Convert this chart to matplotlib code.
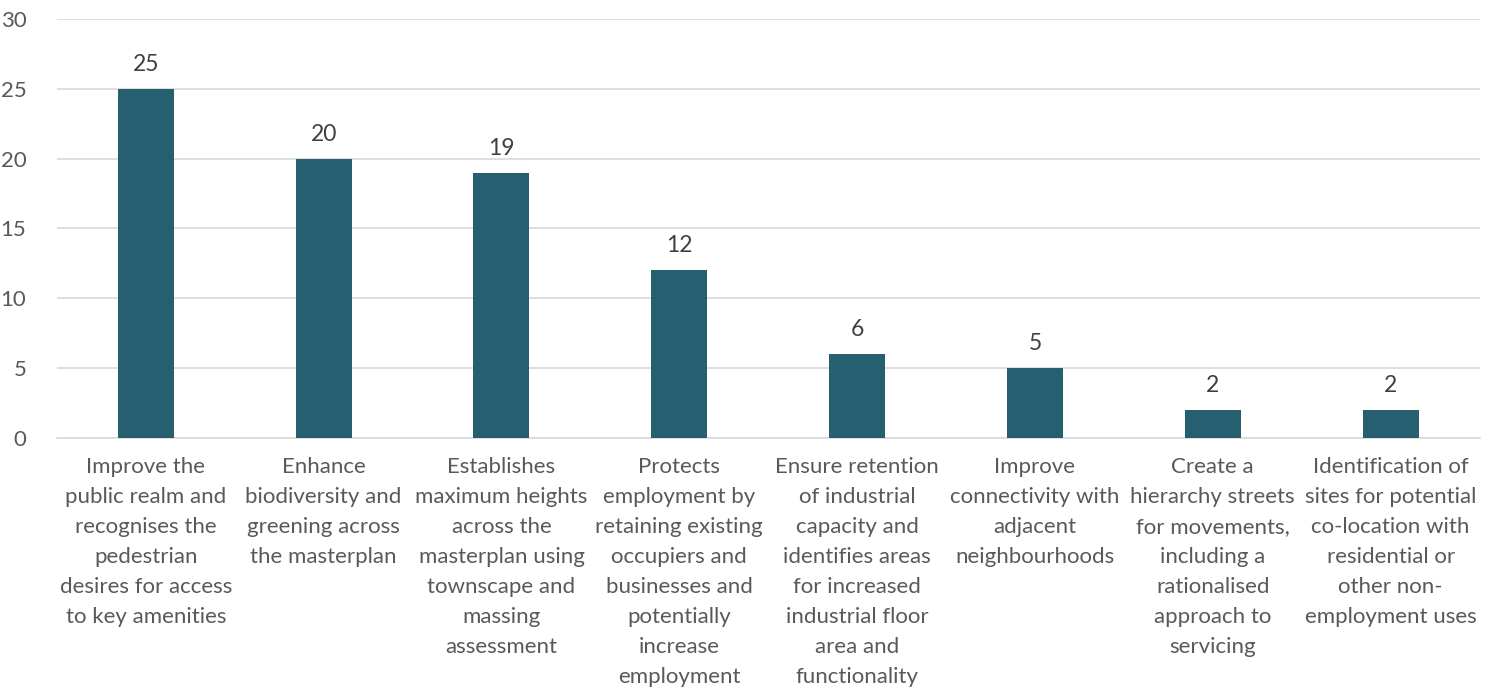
import matplotlib.pyplot as plt

# Masterplan objectives and number of mentions
labels = [
    'Improve the\npublic realm and\nrecognises the\npedestrian\ndesires for access\nto key amenities',
    'Enhance\nbiodiversity and\ngreening across\nthe masterplan',
    'Establishes\nmaximum heights\nacross the\nmasterplan using\ntownscape and\nmassing\nassessment',
    'Protects\nemployment by\nretaining existing\noccupiers and\nbusinesses and\npotentially\nincrease\nemployment',
    'Ensure retention\nof industrial\ncapacity and\nidentifies areas\nfor increased\nindustrial floor\narea and\nfunctionality',
    'Improve\nconnectivity with\nadjacent\nneighbourhoods',
    'Create a\nhierarchy streets\nfor movements,\nincluding a\nrationalised\napproach to\nservicing',
    'Identification of\nsites for potential\nco-location with\nresidential or\nother non-\nemployment uses',
]
counts = [25, 20, 19, 12, 6, 5, 2, 2]

text_color = '#595959'
plt.rcParams['font.family'] = ['Lato', 'DejaVu Sans']

fig = plt.figure(figsize=(14.96, 6.88), dpi=100)
ax = fig.add_axes([0.038, 0.3634, 0.951, 0.609])

x = list(range(len(counts)))
bars = ax.bar(x, counts, width=0.315, color='#265F6F', zorder=3)

for xi, v in zip(x, counts):
    ax.text(xi, v + 1.0, str(v), ha='center', va='bottom', fontsize=16.5, color='#404040')

ax.set_xlim(-0.5, len(counts) - 0.5)
ax.set_ylim(0, 30)
ax.set_yticks(range(0, 31, 5))
ax.set_xticks(x)
ax.set_xticklabels(labels, fontsize=16, color=text_color, linespacing=1.62)
ax.tick_params(axis='y', labelsize=16, labelcolor=text_color, length=0, pad=22)
ax.tick_params(axis='x', length=0, pad=14)

ax.grid(axis='y', color='#D9D9D9', linewidth=1.2, zorder=0)
for s in ['top', 'right', 'left']:
    ax.spines[s].set_visible(False)
ax.spines['bottom'].set_color('#D9D9D9')
ax.spines['bottom'].set_linewidth(1.2)

fig.savefig('out.png', dpi=100)
